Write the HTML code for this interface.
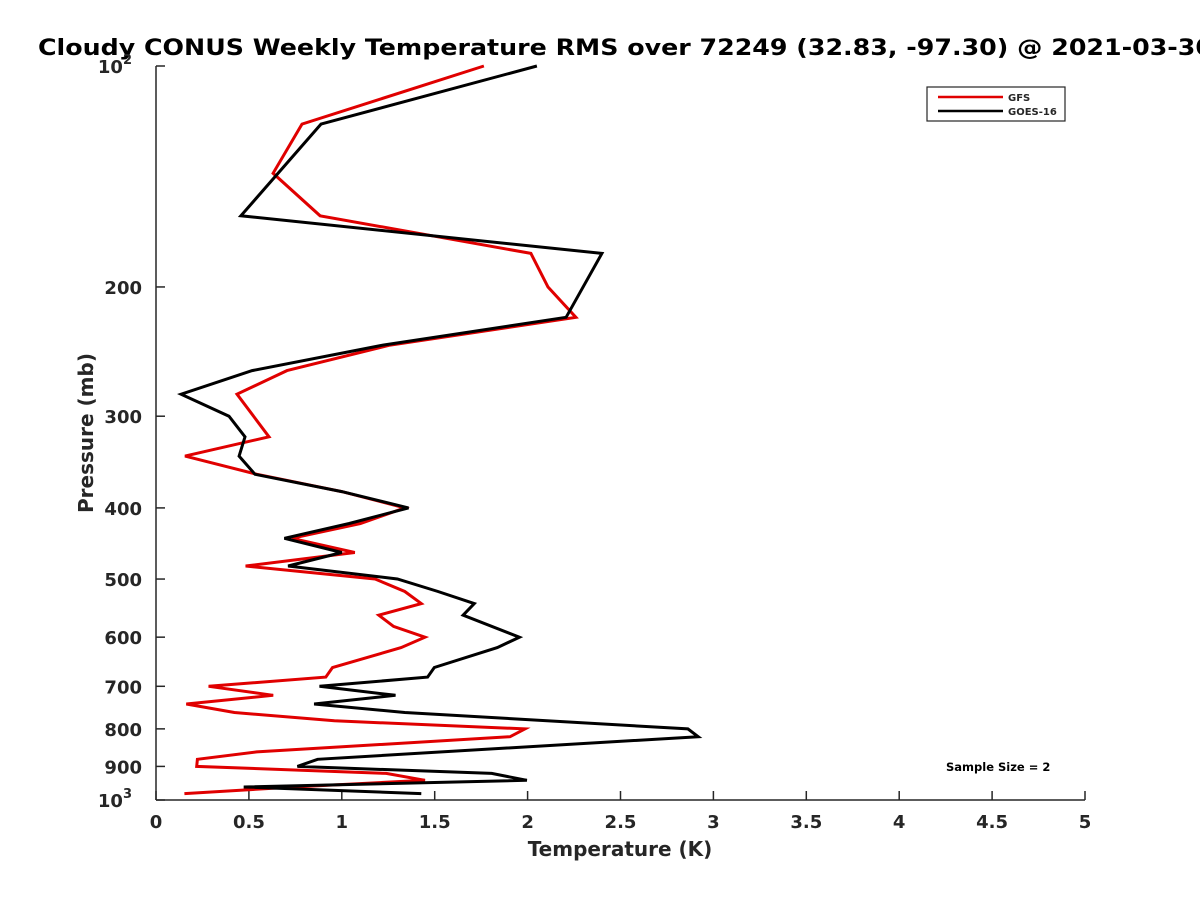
<!DOCTYPE html>
<html><head><meta charset="utf-8"><style>
html,body{margin:0;padding:0;background:#fff;width:1200px;height:900px;overflow:hidden}
svg text{font-family:"DejaVu Sans","Liberation Sans",sans-serif;font-weight:bold;fill:#262626}
</style></head><body>
<svg id="chart" width="1200" height="900" viewBox="0 0 1200 900" xmlns="http://www.w3.org/2000/svg">
<rect width="1200" height="900" fill="#fff"/>
<text x="38" y="55" font-size="22" textLength="1175" lengthAdjust="spacingAndGlyphs" fill="#000" style="fill:#000">Cloudy CONUS Weekly Temperature RMS over 72249 (32.83, -97.30) @ 2021-03-30</text>
<g id="axes"></g>
<g id="series"></g>
<text x="620" y="856" font-size="20" text-anchor="middle">Temperature (K)</text>
<text transform="translate(93,433) rotate(-90)" font-size="20" text-anchor="middle">Pressure (mb)</text>
<g>
<rect x="927" y="87" width="138" height="34" fill="#fff" stroke="#262626" stroke-width="1.2"/>
<line x1="938" y1="97" x2="1003" y2="97" stroke="#e00000" stroke-width="2.5"/>
<text x="1008" y="101" font-size="10">GFS</text>
<line x1="938" y1="111" x2="1003" y2="111" stroke="#000" stroke-width="2.5"/>
<text x="1008" y="115" font-size="10">GOES-16</text>
</g>
<text x="946" y="771" font-size="11.5" fill="#000" style="fill:#000">Sample Size = 2</text>
</svg>
<script>
const xTicks = [0,0.5,1,1.5,2,2.5,3,3.5,4,4.5,5];
const xTickLabels = ["0","0.5","1","1.5","2","2.5","3","3.5","4","4.5","5"];
const yTicks = [100,200,300,400,500,600,700,800,900,1000];
const yTickLabels = ["10^2","200","300","400","500","600","700","800","900","10^3"];
const gfsPressure = [100,120,140,160,180,200,220,240,260,280,320,340,360,380,400,420,440,460,480,500,520,540,560,580,600,620,660,680,700,720,740,760,780,800,820,860,880,900,920,940,960,980];
const gfsRms = [1.765,0.786,0.630,0.883,2.018,2.11,2.26,1.26,0.705,0.436,0.608,0.156,0.544,1.0,1.339,1.10,0.731,1.07,0.482,1.179,1.339,1.428,1.199,1.279,1.448,1.319,0.950,0.914,0.283,0.631,0.163,0.422,0.960,1.986,1.906,0.542,0.223,0.219,1.239,1.448,0.741,0.153];
const goesPressure = [100,120,160,180,220,240,260,280,300,320,340,360,380,400,420,440,460,480,500,520,540,560,600,620,660,680,700,720,740,760,800,820,880,900,920,940,960,980];
const goesRms = [2.05,0.888,0.457,2.40,2.207,1.222,0.517,0.135,0.393,0.479,0.447,0.533,1.0,1.359,1.04,0.691,1.0,0.711,1.299,1.518,1.713,1.653,1.956,1.837,1.498,1.462,0.88,1.289,0.851,1.339,2.863,2.918,0.870,0.761,1.807,1.996,0.472,1.428];

const X0=156,X1=1085,Y0=66,Y1=800;
function xs(v){return X0+(v-0)/(5-0)*(X1-X0);}
function ys(p){return Y0+(Math.log10(p)-2)*(Y1-Y0);}
const NS="http://www.w3.org/2000/svg";
const axes=document.getElementById('axes');
const series=document.getElementById('series');
function mk(tag,attrs,parent){const e=document.createElementNS(NS,tag);for(const k in attrs)e.setAttribute(k,attrs[k]);parent.appendChild(e);return e;}

let yl=mk('line',{x1:X0,y1:Y0,x2:X0,y2:Y1,stroke:'#262626','stroke-width':1.5},axes);


let xl=mk('line',{x1:X0,y1:Y1,x2:X1,y2:Y1,stroke:'#262626','stroke-width':1.5},axes);



xTicks.forEach((v,i)=>{
  const x=xs(v);
  const t=mk('line',{x1:x,y1:Y1,x2:x,y2:Y1-9,stroke:'#262626','stroke-width':1.5},axes);
  
  
  const l=mk('text',{x:x,y:Y1+28,'font-size':18,'text-anchor':'middle'},axes);
  l.textContent=xTickLabels[i];
  
  
});
yTicks.forEach((p,i)=>{
  const y=ys(p);
  const t=mk('line',{x1:X0,y1:y,x2:X0+9,y2:y,stroke:'#262626','stroke-width':1.5},axes);
  
  
  const lab=yTickLabels[i];
  const l=mk('text',{x:X0-14,y:y+7,'font-size':18,'text-anchor':'end'},axes);
  if(lab.indexOf('^')>=0){
    const parts=lab.split('^');
    l.setAttribute('x',X0-24);
    l.textContent=parts[0];
    const s=mk('tspan',{'font-size':13,dy:-9},l);
    s.textContent=parts[1];
  } else l.textContent=lab;
  
  
});

function drawLine(pr,vals,color,name){
  const pts=pr.map((p,i)=>xs(vals[i]).toFixed(1)+','+ys(p).toFixed(1)).join(' ');
  const pl=mk('polyline',{points:pts,fill:'none',stroke:color,'stroke-width':3,'stroke-linejoin':'miter'},series);
  
  
}
drawLine(gfsPressure,gfsRms,'#e00000','gfs-line');
drawLine(goesPressure,goesRms,'#000000','goes16-line');
</script>
</body></html>
